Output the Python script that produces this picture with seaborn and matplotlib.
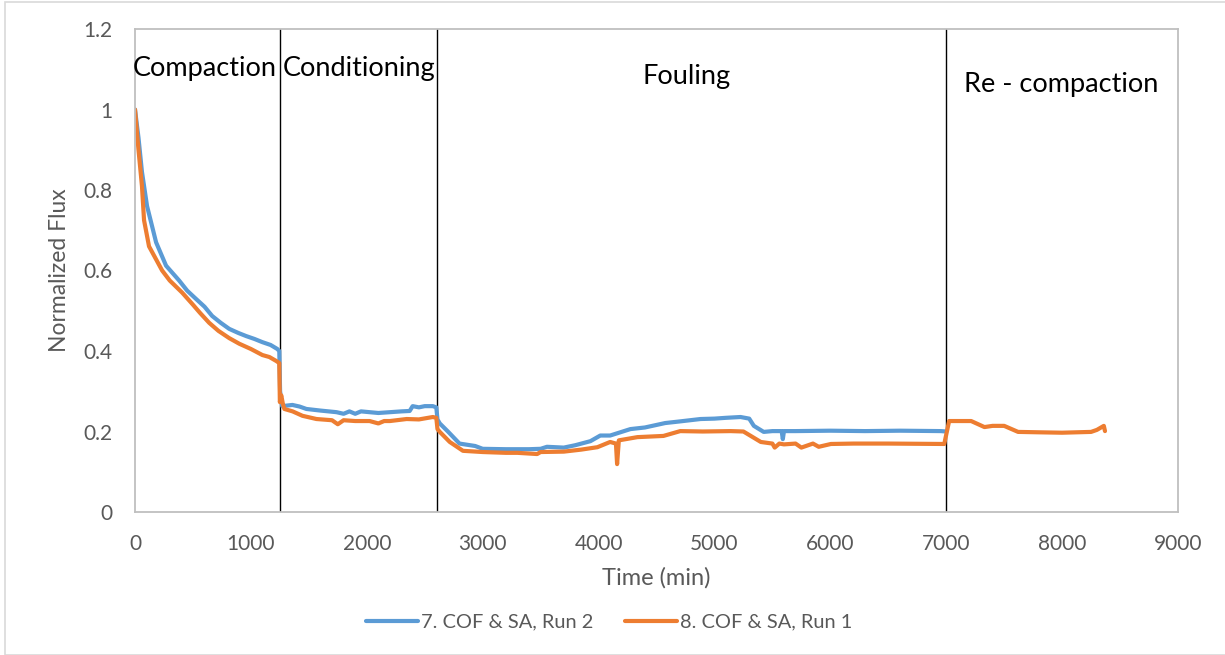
import matplotlib
matplotlib.use("Agg")
import matplotlib.pyplot as plt
import seaborn as sns
import pandas as pd
from matplotlib.patches import Rectangle

# ---------------- data ----------------
run2_time = [0, 30, 60, 104, 182, 268, 381, 450, 528, 600, 666, 740, 813, 890, 960,
             1030, 1099, 1170, 1228, 1245, 1252, 1270, 1358, 1420, 1479, 1600, 1739,
             1800, 1850, 1900, 1950, 2024, 2100, 2200, 2300, 2370, 2396, 2450, 2500,
             2570, 2600, 2610, 2630, 2700, 2800, 2935, 3000, 3200, 3400, 3500, 3555,
             3700, 3800, 3930, 4015, 4100, 4275, 4400, 4575, 4700, 4880, 5000, 5100,
             5225, 5300, 5340, 5425, 5500, 5580, 5590, 5600, 5700, 6000, 6300, 6600,
             6955, 7000]
run2_flux = [1.00, 0.93, 0.845, 0.76, 0.67, 0.612, 0.575, 0.55, 0.529, 0.51, 0.487,
             0.47, 0.455, 0.445, 0.437, 0.43, 0.422, 0.415, 0.405, 0.40, 0.30, 0.263,
             0.266, 0.262, 0.256, 0.252, 0.248, 0.244, 0.250, 0.244, 0.250, 0.248,
             0.246, 0.248, 0.250, 0.251, 0.263, 0.260, 0.263, 0.263, 0.260, 0.23,
             0.22, 0.20, 0.17, 0.164, 0.157, 0.156, 0.156, 0.157, 0.162, 0.160, 0.166,
             0.176, 0.19, 0.19, 0.206, 0.21, 0.221, 0.225, 0.231, 0.232, 0.234, 0.236,
             0.232, 0.214, 0.199, 0.201, 0.201, 0.181, 0.201, 0.201, 0.202, 0.201,
             0.202, 0.201, 0.20]

run1_time = [0, 30, 60, 78, 121, 234, 300, 407, 500, 560, 640, 720, 813, 900, 1000,
             1099, 1160, 1220, 1245, 1250, 1262, 1275, 1289, 1360, 1445, 1566, 1700,
             1750, 1800, 1900, 2024, 2100, 2150, 2200, 2344, 2450, 2570, 2600, 2610,
             2630, 2716, 2830, 3000, 3200, 3300, 3470, 3500, 3700, 3850, 3990, 4100,
             4150, 4160, 4175, 4335, 4560, 4705, 4900, 5140, 5250, 5400, 5500, 5520,
             5560, 5600, 5700, 5750, 5850, 5900, 6005, 6200, 6500, 6983, 7025, 7215,
             7330, 7400, 7500, 7620, 7800, 8000, 8250, 8300, 8360, 8370]
run1_flux = [1.00, 0.90, 0.81, 0.725, 0.66, 0.60, 0.575, 0.545, 0.515, 0.495, 0.47,
             0.45, 0.432, 0.418, 0.405, 0.39, 0.385, 0.375, 0.37, 0.273, 0.29, 0.27,
             0.256, 0.25, 0.239, 0.231, 0.228, 0.218, 0.228, 0.226, 0.226, 0.22,
             0.226, 0.226, 0.231, 0.230, 0.236, 0.234, 0.206, 0.199, 0.174, 0.152,
             0.149, 0.147, 0.147, 0.144, 0.149, 0.150, 0.155, 0.161, 0.174, 0.170,
             0.119, 0.178, 0.186, 0.189, 0.201, 0.200, 0.201, 0.200, 0.174, 0.170,
             0.160, 0.170, 0.168, 0.170, 0.160, 0.170, 0.162, 0.169, 0.170, 0.170,
             0.169, 0.226, 0.226, 0.211, 0.214, 0.214, 0.199, 0.198, 0.197, 0.199,
             0.204, 0.214, 0.201]

series_labels = ["7. COF & SA, Run 2", "8. COF & SA, Run 1"]
phase_bounds = [1254, 2604, 7000]
phase_names = ["Compaction", "Conditioning", "Fouling", "Re - compaction"]
phase_text_x = [600, 1935, 4760, 7990]
phase_text_y = [1.103, 1.103, 1.083, 1.063]
x_ticks = list(range(0, 9001, 1000))
y_ticks = [0, 0.2, 0.4, 0.6, 0.8, 1.0, 1.2]
y_tick_labels = ["0", "0.2", "0.4", "0.6", "0.8", "1", "1.2"]

# ---------------- build frame ----------------
df = pd.concat([
    pd.DataFrame({"Time": run2_time, "Flux": run2_flux, "Series": series_labels[0]}),
    pd.DataFrame({"Time": run1_time, "Flux": run1_flux, "Series": series_labels[1]}),
], ignore_index=True)

sns.set_theme(style="white")
plt.rcParams['font.family'] = ['Lato', 'DejaVu Sans']
grey = "#595959"

fig = plt.figure(figsize=(12.25, 6.55), dpi=100)
ax = fig.add_axes([135 / 1225, 1 - 512 / 655, (1178 - 135) / 1225, (512 - 29) / 655])

palette = {series_labels[0]: "#5B9BD5", series_labels[1]: "#ED7D31"}
sns.lineplot(data=df, x="Time", y="Flux", hue="Series", palette=palette,
             linewidth=3.0, ax=ax, sort=False, estimator=None)

for b in phase_bounds:
    ax.axvline(b, color="black", linewidth=1.0, zorder=1)

for name, tx, ty in zip(phase_names, phase_text_x, phase_text_y):
    ax.text(tx, ty, name, ha="center", va="center", fontsize=19.5, color="black",
            family=['Lato', 'DejaVu Sans'])

ax.set_xlim(0, 9000)
ax.set_ylim(0, 1.2)
ax.set_xticks(x_ticks)
ax.set_yticks(y_ticks)
ax.set_yticklabels(y_tick_labels)
ax.tick_params(axis="x", colors=grey, labelsize=15, length=0, pad=16)
ax.tick_params(axis="y", colors=grey, labelsize=15, length=0, pad=16)
ax.set_xlabel("Time (min)", color=grey, fontsize=17, labelpad=9)
ax.set_ylabel("Normalized Flux", color=grey, fontsize=16.5, labelpad=10)
for sp in ax.spines.values():
    sp.set_color("#BFBFBF")
    sp.set_linewidth(1.3)

handles, labels = ax.get_legend_handles_labels()
ax.legend(handles, labels, loc="center", bbox_to_anchor=(0.4545, -0.228), ncol=2,
          frameon=False, fontsize=14.4, handlelength=2.6, handletextpad=0.12,
          columnspacing=1.6, labelcolor=grey)

fig.patches.append(Rectangle((5 / 1225, 0.0), 1.0, 1 - 2 / 655, transform=fig.transFigure,
                             fill=False, edgecolor="#D9D9D9", linewidth=1.2))

fig.savefig("out.png", dpi=100, facecolor="white")
